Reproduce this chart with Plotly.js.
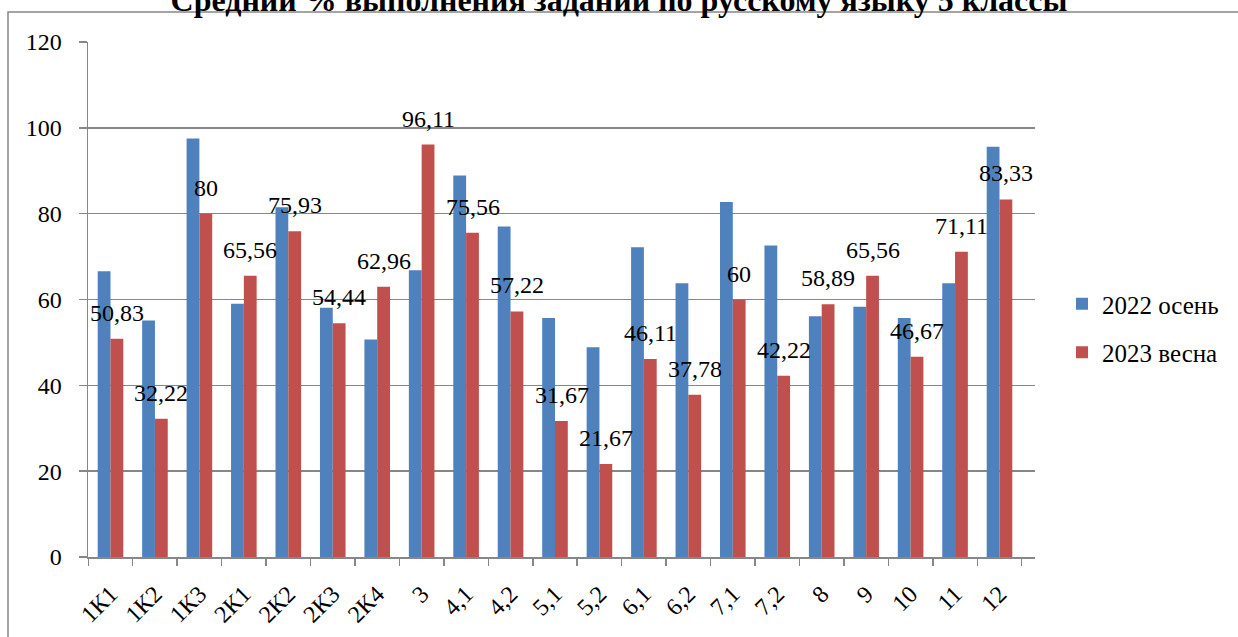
<!DOCTYPE html>
<html>
<head>
<meta charset="utf-8">
<script src="https://cdn.plot.ly/plotly-3.0.1.min.js"></script>
<style>
  html, body { margin: 0; padding: 0; background: #fff; }
  #chart { width: 1238px; height: 637px; }
</style>
</head>
<body>
<div id="chart"></div>
<script>
const categories = ["1К1", "1К2", "1К3", "2К1", "2К2", "2К3", "2К4", "3", "4,1", "4,2", "5,1", "5,2", "6,1", "6,2", "7,1", "7,2", "8", "9", "10", "11", "12"];
const autumn2022 = [66.6, 55.1, 97.5, 59.0, 81.5, 58.1, 50.7, 66.8, 88.9, 77.0, 55.7, 48.9, 72.2, 63.8, 82.7, 72.6, 56.1, 58.3, 55.7, 63.8, 95.6];
const spring2023 = [50.83, 32.22, 80, 65.56, 75.93, 54.44, 62.96, 96.11, 75.56, 57.22, 31.67, 21.67, 46.11, 37.78, 60, 42.22, 58.89, 65.56, 46.67, 71.11, 83.33];
const seriesNames = ["2022 осень", "2023 весна"];
const titleText = "Средний % выполнения заданий по русскому языку 5 классы";
const yTicks = [0, 20, 40, 60, 80, 100, 120];

const W = 1238, H = 637;
const mL = 88, mR = 203, mT = 42, mB = 80;
const pw = W - mL - mR, ph = H - mT - mB;
const px2x = p => (p - mL) / pw;
const py2y = p => (H - mB - p) / ph;

const font = "Liberation Serif";
const gridColor = "#878787";

function fmt(v) { return String(v).replace(".", ","); }

const traces = [
  {
    type: "bar", name: seriesNames[0], x: categories, y: autumn2022,
    marker: { color: "#4F81BD", line: { width: 0 } },
    legendgroup: "a", hoverinfo: "skip"
  },
  {
    type: "bar", name: seriesNames[1], x: categories, y: spring2023,
    marker: { color: "#C0504D", line: { width: 0 } },
    legendgroup: "b", hoverinfo: "skip"
  }
];

const annotations = categories.map((c, i) => ({
  x: i, y: spring2023[i], xref: "x", yref: "y",
  text: fmt(spring2023[i]), showarrow: false,
  xanchor: "center", yanchor: "bottom",
  xshift: 6.5, yshift: 11,
  font: { family: font, size: 24, color: "#000" }
}));

const layout = {
  width: W, height: H,
  margin: { l: mL, r: mR, t: mT, b: mB, pad: 0 },
  paper_bgcolor: "#fff", plot_bgcolor: "#fff",
  font: { family: font, size: 24, color: "#000" },
  title: {
    text: "<b>" + titleText + "</b>",
    font: { family: font, size: 32, color: "#000", weight: "bold" },
    x: 0.5, xref: "container", xanchor: "center",
    y: 1, yref: "container", yanchor: "middle"
  },
  barmode: "group", bargap: 0.424, bargroupgap: 0,
  showlegend: true,
  legend: {
    x: px2x(1062), y: py2y(328), xanchor: "left", yanchor: "middle",
    font: { family: font, size: 25, color: "#000" },
    tracegroupgap: 13, traceorder: "grouped",
    bgcolor: "rgba(0,0,0,0)"
  },
  xaxis: {
    type: "category", tickangle: -45,
    showline: true, linecolor: gridColor, linewidth: 1.5,
    ticks: "outside", tickson: "boundaries", ticklen: 7, tickcolor: gridColor, tickwidth: 1.5,
    showgrid: false, zeroline: false, ticklabelstandoff: 12,
    tickfont: { family: font, size: 24, color: "#000" }
  },
  yaxis: {
    range: [0, 120], tickvals: yTicks, ticktext: yTicks.map(String),
    showline: true, linecolor: gridColor, linewidth: 1.5,
    ticks: "outside", ticklen: 8, tickcolor: gridColor, tickwidth: 1.5,
    showgrid: true, gridcolor: gridColor, gridwidth: 1.5,
    zeroline: false, ticklabelstandoff: 12,
    tickfont: { family: font, size: 24, color: "#000" }
  },
  annotations: annotations,
  shapes: [{
    type: "rect", xref: "paper", yref: "paper",
    x0: px2x(8), x1: px2x(W + 10), y0: py2y(H + 10), y1: py2y(12),
    line: { color: gridColor, width: 1.5 }, fillcolor: "rgba(0,0,0,0)", layer: "below"
  }]
};

Plotly.newPlot("chart", traces, layout, { staticPlot: true, displayModeBar: false });
</script>
</body>
</html>
